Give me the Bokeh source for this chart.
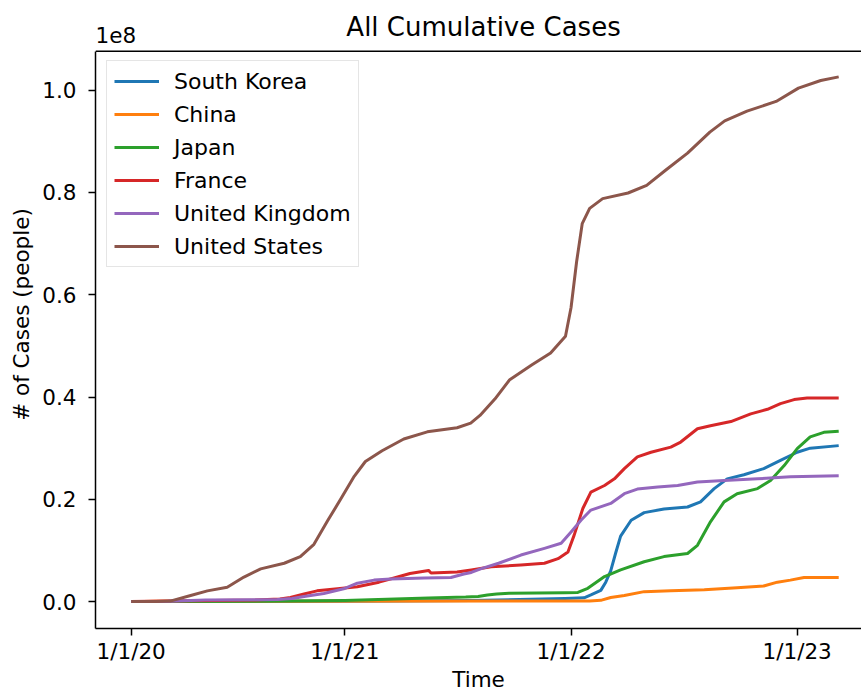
from bokeh.plotting import figure
from bokeh.models import (Range1d, FixedTicker, Label, Legend, LegendItem, Span,
                          CustomJSTickFormatter)
from bokeh.embed import file_html
from bokeh.resources import INLINE

# ---------------- data (x = days since 1/22/20, y = cumulative cases in millions) -------------
x_tick_days = [0, 345, 710, 1075]
x_tick_labels = ["1/1/20", "1/1/21", "1/1/22", "1/1/23"]
y_ticks = [0, 20, 40, 60, 80, 100]

countries = ["South Korea", "China", "Japan", "France", "United Kingdom", "United States"]
colors = ["#1f77b4", "#ff7f0e", "#2ca02c", "#d62728", "#9467bd", "#8c564b"]

kr_days = [0, 60, 200, 345, 550, 700, 731, 742, 758, 766, 774, 782, 790, 807, 828, 860,
           898, 919, 941, 962, 989, 1021, 1048, 1075, 1096, 1142]
kr_cases = [0, 0.01, 0.02, 0.06, 0.2, 0.6, 0.75, 1.3, 2.2, 3.8, 6.0, 9.5, 12.8, 15.9, 17.4,
            18.1, 18.5, 19.5, 22.1, 24.0, 24.8, 26.0, 27.6, 29.2, 30.0, 30.5]

cn_days = [0, 20, 40, 200, 600, 740, 758, 774, 796, 828, 871, 925, 978, 1021, 1043, 1064,
           1086, 1142]
cn_cases = [0, 0.03, 0.08, 0.09, 0.11, 0.14, 0.25, 0.8, 1.2, 1.95, 2.1, 2.3, 2.7, 3.05, 3.8,
            4.2, 4.7, 4.7]

jp_days = [0, 60, 200, 345, 480, 540, 560, 575, 590, 610, 700, 721, 737, 764, 790, 828, 860,
           898, 914, 935, 957, 978, 1011, 1032, 1054, 1075, 1096, 1118, 1142]
jp_cases = [0, 0.002, 0.07, 0.23, 0.7, 0.88, 1.0, 1.3, 1.5, 1.65, 1.73, 1.8, 2.6, 4.9, 6.2,
            7.8, 8.8, 9.4, 11.0, 15.6, 19.5, 21.1, 22.1, 23.7, 26.6, 29.9, 32.2, 33.1, 33.3]

fr_days = [0, 60, 100, 200, 240, 257, 279, 300, 333, 365, 400, 430, 450, 470, 480, 484, 505,
           526, 549, 581, 629, 667, 689, 705, 715, 729, 742, 764, 780, 796, 817, 839, 871,
           887, 914, 935, 968, 1000, 1027, 1048, 1070, 1091, 1142]
fr_cases = [0, 0.1, 0.17, 0.3, 0.5, 0.8, 1.5, 2.1, 2.5, 2.9, 3.8, 4.8, 5.5, 5.9, 6.1, 5.6,
            5.7, 5.8, 6.2, 6.8, 7.15, 7.5, 8.4, 9.7, 13.0, 18.2, 21.4, 22.7, 24.0, 26.0,
            28.3, 29.2, 30.2, 31.2, 33.8, 34.4, 35.2, 36.7, 37.6, 38.7, 39.5, 39.8, 39.8]

uk_days = [0, 60, 120, 200, 236, 260, 279, 311, 343, 365, 392, 419, 473, 516, 537, 549, 564,
           593, 629, 667, 694, 710, 726, 742, 774, 796, 817, 850, 882, 914, 957, 1011, 1064,
           1142]
uk_cases = [0, 0.05, 0.3, 0.35, 0.4, 0.6, 1.0, 1.6, 2.5, 3.6, 4.2, 4.4, 4.6, 4.7, 5.4, 5.7,
            6.4, 7.5, 9.1, 10.4, 11.4, 13.6, 15.9, 17.9, 19.2, 21.1, 22.0, 22.4, 22.7, 23.4,
            23.7, 24.0, 24.4, 24.6]

us_days = [0, 40, 63, 96, 123, 155, 182, 209, 247, 273, 295, 317, 338, 360, 378, 405, 440,
           478, 526, 548, 563, 587, 611, 647, 677, 701, 710, 719, 728, 740, 761, 802, 832,
           862, 898, 934, 958, 994, 1041, 1077, 1113, 1142]
us_cases = [0, 0, 0.1, 1.2, 2.1, 2.8, 4.8, 6.4, 7.5, 8.8, 11.2, 15.8, 20.0, 24.5, 27.4, 29.5,
            31.8, 33.2, 34.0, 34.9, 36.4, 39.6, 43.4, 46.3, 48.6, 51.9, 57.5, 66.5, 73.9,
            76.9, 78.8, 79.9, 81.4, 84.3, 87.7, 91.8, 94.0, 95.9, 97.8, 100.4, 101.9, 102.6]

series = [(kr_days, kr_cases), (cn_days, cn_cases), (jp_days, jp_cases),
          (fr_days, fr_cases), (uk_days, uk_cases), (us_days, us_cases)]

# ---------------- figure ----------------
FONT = "DejaVu Sans"
TXT = "21.5px"

Y_LO, Y_HI = -5.26, 117.54      # frame spans the full height above the x axis
Y_TOP = 107.6                   # top spine of the axes box
X_LO, X_HI = -57.6, 1178.8

p = figure(width=861, height=694, output_backend="svg", toolbar_location=None,
           x_range=Range1d(X_LO, X_HI), y_range=Range1d(Y_LO, Y_HI),
           min_border_left=95, min_border_right=0, min_border_top=0, min_border_bottom=0,
           background_fill_color="white", border_fill_color="white")
p.grid.visible = False
p.outline_line_color = None

for ax in (p.xaxis[0], p.yaxis[0]):
    ax.axis_line_color = "black"
    ax.axis_line_width = 1.5
    ax.major_tick_line_color = "black"
    ax.major_tick_line_width = 1.5
    ax.major_tick_out = 7
    ax.major_tick_in = 0
    ax.minor_tick_line_color = None
    ax.major_label_text_font = FONT
    ax.major_label_text_font_size = TXT
    ax.major_label_text_color = "black"
    ax.axis_label_text_font = FONT
    ax.axis_label_text_font_size = TXT
    ax.axis_label_text_font_style = "normal"
    ax.axis_label_text_color = "black"

xa = p.xaxis[0]
xa.ticker = FixedTicker(ticks=x_tick_days)
xa.major_label_overrides = dict(zip(x_tick_days, x_tick_labels))
xa.axis_label = "Time"
xa.major_label_standoff = 3
xa.axis_label_standoff = 0

ya = p.yaxis[0]
ya.ticker = FixedTicker(ticks=y_ticks)
ya.formatter = CustomJSTickFormatter(code="return (tick / 100).toFixed(1);")
ya.axis_label = "# of Cases (people)"
ya.major_label_standoff = 12
ya.axis_label_standoff = 5
ya.bounds = (Y_LO, Y_TOP)

# top spine of the axes box
p.add_layout(Span(location=Y_TOP, dimension="width", line_color="black", line_width=1.5))

items = []
for name, color, (xs, ys) in zip(countries, colors, series):
    r = p.line(xs, ys, line_color=color, line_width=3, line_join="round")
    items.append(LegendItem(label=name, renderers=[r]))

legend = Legend(items=items, location=(11, 361), margin=0, padding=7, spacing=7,
                glyph_width=45, glyph_height=26, label_height=26, label_standoff=15,
                label_text_font=FONT, label_text_font_size="22px", label_text_color="black",
                border_line_color="#cccccc", border_line_width=1,
                background_fill_color="white", background_fill_alpha=0.8)
p.add_layout(legend)

# title and the axis offset text, drawn above the axes box
p.add_layout(Label(x=568.7, y=112.3, text="All Cumulative Cases", text_font=FONT,
                   text_font_size="26px", text_color="black", text_align="center",
                   text_baseline="alphabetic"))
p.add_layout(Label(x=X_LO, y=110.7, text="1e8", text_font=FONT, text_font_size=TXT,
                   text_color="black", text_align="left", text_baseline="alphabetic"))

open("out.html", "w").write(file_html(p, INLINE))
